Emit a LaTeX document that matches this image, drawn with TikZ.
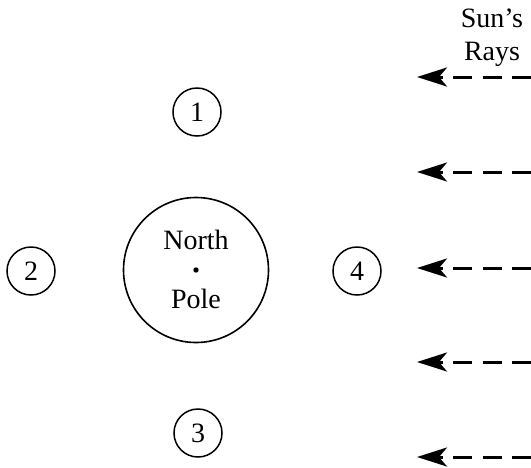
\documentclass[tikz,border=0pt]{standalone}
\usepackage{fontspec}
\setmainfont{Liberation Serif}
\usetikzlibrary{arrows.meta, positioning}

\begin{document}
\begin{tikzpicture}[x=1pt, y=-1pt,
    font=\fontsize{28}{33}\selectfont,
    spot/.style={circle, draw, line width=1.5pt, minimum size=48pt, inner sep=0pt},
    ray/.style={line width=3pt, dash pattern=on 19pt off 10.5pt,
      -{Stealth[length=30pt, width=19pt, inset=8pt]}}]
      \useasboundingbox (0, 0) rectangle (531, 467);

      \node[circle, draw, line width=1.6pt, minimum size=145pt] (pole) at (196, 270) {};
      \fill (pole.center) circle (2.7pt);
      \node[above=21pt of pole.center, anchor=base] (north) {North};
      \node[below=38pt of pole.center, anchor=base] (name) {Pole};

      \node[spot] (p1) at (197, 112) {1};
      \node[spot] (p2) at (31, 271) {2};
      \node[spot] (p3) at (198, 433) {3};
      \node[spot] (p4) at (357, 271) {4};

      \node[anchor=base] (sun) at (492, 27) {Sun's};
      \node[below=33pt of sun.base, anchor=base] (rays) {Rays};

      \foreach \y [count=\i] in {77, 172, 268, 362, 457} {
        \coordinate (s\i) at (531, \y);
        \coordinate (e\i) at (417, \y);
        \draw[ray] (s\i) -- (e\i);
      }

    \end{tikzpicture}
\end{document}
